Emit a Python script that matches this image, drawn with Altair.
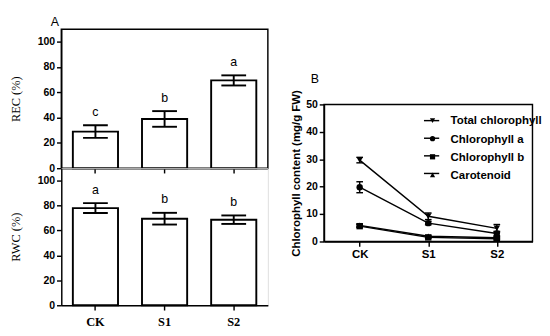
import altair as alt
import pandas as pd

# ---------------- data ----------------
groups = ["CK", "S1", "S2"]
rec_mean = [29, 39, 69.5]
rec_err = [5, 6.2, 4]
rec_letters = ["c", "b", "a"]
rwc_mean = [78, 69.5, 68.7]
rwc_err = [4, 4.7, 3.4]
rwc_letters = ["a", "b", "b"]

series = ["Total chlorophyll", "Chlorophyll a", "Chlorophyll b", "Carotenoid"]
series_vals = {
    "Total chlorophyll": [29.7, 9.2, 4.8],
    "Chlorophyll a": [19.8, 6.7, 2.9],
    "Chlorophyll b": [5.6, 1.5, 1.0],
    "Carotenoid": [5.9, 1.9, 1.4],
}
series_err = {
    "Total chlorophyll": [1.0, 1.2, 1.4],
    "Chlorophyll a": [2.0, 0.6, 0.8],
    "Chlorophyll b": [0.5, 0.3, 0.4],
    "Carotenoid": [0.5, 0.3, 0.4],
}
shapes = ["triangle-down", "circle", "square", "triangle-up"]

SANS = "Liberation Sans"
SERIF = "Liberation Serif"

def bar_df(mean, err, letters):
    return pd.DataFrame({
        "group": groups,
        "mean": mean,
        "lo": [m - e for m, e in zip(mean, err)],
        "hi": [m + e for m, e in zip(mean, err)],
        "letter": letters,
    })

rec_df = bar_df(rec_mean, rec_err, rec_letters)
rwc_df = bar_df(rwc_mean, rwc_err, rwc_letters)

# line-legend keys are the series names with a trailing space so that the
# line legend and the marker legend are not merged into one
series_line_keys = [s + " " for s in series]
rows = []
for s, sl in zip(series, series_line_keys):
    for g, v, e in zip(groups, series_vals[s], series_err[s]):
        rows.append({"series": s, "series_l": sl, "group": g, "value": v,
                     "lo": v - e, "hi": v + e})
chl_df = pd.DataFrame(rows)

axis_common = dict(
    domainColor="black", domainWidth=1.5, tickColor="black", tickWidth=1.5,
    tickSize=5, labelColor="black", grid=False, labelOverlap=False, labelBound=False,
    tickCount=20,
)

xscale = alt.Scale(domain=groups, paddingInner=0.347, paddingOuter=0.167)
yscale = alt.Scale(domain=[0, 110], nice=False)


def bar_panel(df, ytitle, show_labels, framed):
    if show_labels:
        xaxis = alt.Axis(title=None, labels=True, labelFont=SERIF, labelFontSize=13,
                         labelFontWeight="bold", labelAngle=0, labelPadding=6, **axis_common)
    else:
        xaxis = alt.Axis(title=None, labels=False, **axis_common)
    yaxis = alt.Axis(title=ytitle, values=[0, 20, 40, 60, 80, 100], labelFont=SANS,
                     labelFontSize=11, labelFontWeight="bold", titleFont=SERIF,
                     titleFontSize=13, titleFontWeight="normal", titleColor="black",
                     titlePadding=16, labelPadding=2, **axis_common)
    x = alt.X("group:N", scale=xscale, axis=xaxis, sort=groups)
    base = alt.Chart(df)
    bars = base.mark_bar(fill="white", stroke="black", strokeWidth=2).encode(
        x=x, y=alt.Y("mean:Q", scale=yscale, axis=yaxis))
    rule = base.mark_rule(color="black", strokeWidth=2).encode(
        x=alt.X("group:N", sort=groups), y="lo:Q", y2="hi:Q")
    cap_hi = base.mark_tick(color="black", thickness=2, size=26, opacity=1).encode(
        x=alt.X("group:N", sort=groups), y="hi:Q")
    cap_lo = base.mark_tick(color="black", thickness=2, size=26, opacity=1).encode(
        x=alt.X("group:N", sort=groups), y="lo:Q")
    txt = base.mark_text(font=SANS, fontSize=13, color="black", baseline="alphabetic",
                         dy=-10).encode(x=alt.X("group:N", sort=groups), y="hi:Q", text="letter:N")
    layer = alt.layer(bars, rule, cap_hi, cap_lo, txt).properties(width=217, height=146 if framed else 144)
    if framed:
        layer = layer.properties(view=alt.ViewBackground(stroke="black", strokeWidth=1.5),
                                 title=alt.TitleParams("A", anchor="start", frame="group", dx=-11,
                                                       offset=0, font=SANS, fontSize=13,
                                                       fontWeight="normal", color="black"))
    return layer


top_a = bar_panel(rec_df, "REC (%)", False, True)
bot_a = bar_panel(rwc_df, "RWC (%)", True, False)
left = alt.vconcat(top_a, bot_a, spacing=0, bounds="flush")

# ---------------- panel B ----------------
bx = alt.X("group:N", sort=groups, scale=alt.Scale(type="point", domain=groups, padding=0.52),
           axis=alt.Axis(title=None, labelFont=SANS, labelFontSize=12, labelFontWeight="bold",
                         labelAngle=0, labelPadding=3, **axis_common))
by = alt.Y("value:Q", scale=alt.Scale(domain=[0, 50], nice=False),
           axis=alt.Axis(title="Chlorophyll  content (mg/g FW)", values=[0, 10, 20, 30, 40, 50],
                         labelFont=SANS, labelFontSize=11, labelFontWeight="bold",
                         titleFont=SANS, titleFontSize=12, titleFontWeight="bold",
                         titleColor="black", titlePadding=4, labelPadding=2, **axis_common))

bbase = alt.Chart(chl_df)
lines = bbase.mark_line(strokeWidth=1.5).encode(
    x=bx, y=by,
    color=alt.Color("series_l:N", sort=series_line_keys,
                    scale=alt.Scale(domain=series_line_keys, range=["black"] * 4),
                    legend=alt.Legend(title=None, orient="none", legendX=104, legendY=87,
                                      symbolType="stroke", symbolSize=256,
                                      symbolStrokeWidth=1.5, symbolStrokeColor="black",
                                      labelExpr="''", labelOpacity=0, labelFont=SANS,
                                      labelFontSize=12, labelFontWeight="bold", labelLimit=300,
                                      rowPadding=3.5, padding=0)),
)
err_rule = bbase.mark_rule(color="black", strokeWidth=1.5).encode(
    x=alt.X("group:N", sort=groups), y="lo:Q", y2="hi:Q")
err_hi = bbase.mark_tick(color="black", thickness=1.5, size=7, opacity=1).encode(
    x=alt.X("group:N", sort=groups), y="hi:Q")
err_lo = bbase.mark_tick(color="black", thickness=1.5, size=7, opacity=1).encode(
    x=alt.X("group:N", sort=groups), y="lo:Q")
pts = bbase.mark_point(filled=True, color="black", size=45, opacity=1).encode(
    x=alt.X("group:N", sort=groups),
    y="value:Q",
    shape=alt.Shape("series:N", sort=series, scale=alt.Scale(domain=series, range=shapes),
                    legend=alt.Legend(title=None, orient="none", legendX=108, legendY=90,
                                      labelFont=SANS, labelFontSize=12, labelFontWeight="bold",
                                      labelColor="black", labelLimit=300, labelOffset=13,
                                      symbolSize=30, rowPadding=7, padding=0,
                                      symbolFillColor="black", symbolStrokeColor="black",
                                      symbolOpacity=1)),
)
panel_b = alt.layer(lines, err_rule, err_hi, err_lo, pts).properties(
    width=219, height=144,
    view=alt.ViewBackground(stroke="black", strokeWidth=1.5),
    title=alt.TitleParams("B", anchor="start", frame="group", dx=-14, offset=2,
                          font=SANS, fontSize=13, fontWeight="normal", color="black"),
)
spacer = alt.Chart(pd.DataFrame({"v": [0]})).mark_text().encode(text=alt.value("")).properties(
    width=10, height=45)
right = alt.vconcat(spacer, panel_b, spacing=0)

chart = alt.hconcat(left, right, spacing=21).resolve_legend(
    color="independent", shape="independent").properties(padding=0).configure_view(
    stroke=None).configure(background="white")

chart.save("out.html", embed_options={"renderer": "svg", "actions": False})
